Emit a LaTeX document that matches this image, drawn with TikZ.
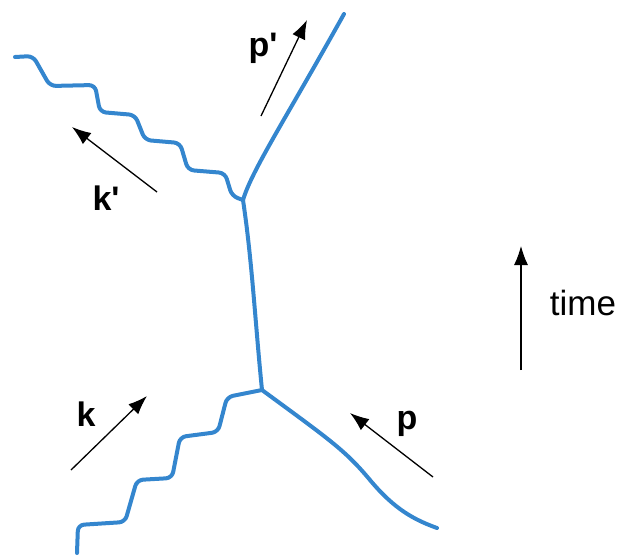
\documentclass[tikz,border=0pt]{standalone}
\usepackage{fontspec}
\setmainfont{Liberation Sans}[Ligatures=TeXOff]
\usetikzlibrary{arrows.meta}
\definecolor{fermblue}{RGB}{52,134,206}
\tikzset{
  fline/.style={draw=fermblue, line width=4pt, line cap=round, line join=round},
  phot/.style={fline, rounded corners=6pt},
  mom/.style={draw=black, line width=1.3pt, -{Latex[length=19pt,width=14pt]}},
  lbl/.style={font=\fontsize{34}{40}\selectfont\bfseries, inner sep=0pt},
  tlbl/.style={font=\fontsize{35}{40}\selectfont, inner sep=0pt}
}
\begin{document}
\begin{tikzpicture}[x=1pt,y=-1pt]
\useasboundingbox (0,0) rectangle (622,558);
% vertices
\coordinate (v1) at (243,200);
\coordinate (v2) at (262,390);
% external ends
\coordinate (kout) at (15,57);
\coordinate (pout) at (344,14);
\coordinate (kin) at (77,553);
\coordinate (pin) at (437,528);
% fermion lines
\draw[fline] (v1) .. controls (252,170) and (285,120) .. (pout);
\draw[fline] (v1) .. controls (252,260) and (255,320) .. (v2);
\draw[fline] (v2) .. controls (330,440) and (345,450) .. (370,480)
  .. controls (395,510) and (415,520) .. (pin);
% photons
\draw[phot] (kout) -- (33,56) -- (50,86) -- (95,85) -- (100,112) -- (135,115)
  -- (145,140) -- (180,143) -- (188,170) -- (225,173) -- (232,196) -- (v1);
\draw[phot] (kin) -- (78,525) -- (125,522) -- (137,480) -- (172,478)
  -- (180,437) -- (218,432) -- (227,397) -- (v2);
% momentum arrows
\coordinate (ppt) at (261,116); \coordinate (pph) at (307,20);
\coordinate (kpt) at (157,192); \coordinate (kph) at (72,127);
\coordinate (kt) at (71,470);   \coordinate (kh) at (147,396);
\coordinate (pt) at (433,477);  \coordinate (ph) at (350,413);
\coordinate (tt) at (521,370);  \coordinate (th) at (521,246);
\draw[mom] (ppt) -- (pph);
\draw[mom] (kpt) -- (kph);
\draw[mom] (kt) -- (kh);
\draw[mom] (pt) -- (ph);
\draw[mom, line width=1.1pt] (tt) -- (th);
% labels
\node[lbl] (lpp) at (263,48) {p'};
\node[lbl] (lkp) at (106,198) {k'};
\node[lbl] (lk) at (86,414) {k};
\node[lbl] (lp) at (407,424) {p};
\node[tlbl] (lt) at (583,303) {time};
\end{tikzpicture}
\end{document}
